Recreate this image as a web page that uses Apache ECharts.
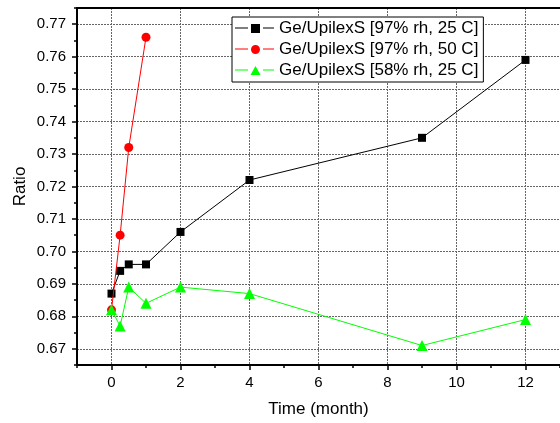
<!DOCTYPE html>
<html><head><meta charset="utf-8">
<script src="https://cdn.jsdelivr.net/npm/echarts@6/dist/echarts.min.js"></script>
<style>html,body{margin:0;padding:0;background:#fff}#c{width:560px;height:423px}</style>
</head><body><div id="c"></div>
<script>
const seriesNames = ['Ge/UpilexS [97% rh, 25 C]', 'Ge/UpilexS [97% rh, 50 C]', 'Ge/UpilexS [58% rh, 25 C]'];
const timeBlack = [0, 0.25, 0.5, 1, 2, 4, 9, 12];
const ratioBlack = [0.687, 0.694, 0.696, 0.696, 0.706, 0.722, 0.735, 0.759];
const timeRed = [0, 0.25, 0.5, 1];
const ratioRed = [0.682, 0.705, 0.732, 0.766];
const timeGreen = [0, 0.25, 0.5, 1, 2, 4, 9, 12];
const ratioGreen = [0.682, 0.677, 0.689, 0.684, 0.689, 0.687, 0.671, 0.679];
const xTicks = [0, 2, 4, 6, 8, 10, 12];
const xMinorTicks = [-1, 1, 3, 5, 7, 9, 11, 13];
const yTicks = [0.67, 0.68, 0.69, 0.70, 0.71, 0.72, 0.73, 0.74, 0.75, 0.76, 0.77];
const yMinorTicks = [0.665, 0.675, 0.685, 0.695, 0.705, 0.715, 0.725, 0.735, 0.745, 0.755, 0.765, 0.775];

const zip = (xs, ys) => xs.map((x, i) => [x, ys[i]]);
const font = 'Liberation Sans, Arial, sans-serif';
const grid = {left: 77, top: 8, right: 0, bottom: 56};
const split = {show: true, lineStyle: {color: '#666', type: [2, 1], width: 1}};

const lines = 'M0,4.5 H13 V5.5 H0 Z M28,4.5 H39 V5.5 H28 Z ';
const icons = [
  'path://' + lines + 'M16,1 H25 V10 H16 Z',
  'path://' + lines + 'M25,5.5 A4.5,4.5 0 1,1 16,5.5 A4.5,4.5 0 1,1 25,5.5 Z',
  'path://' + lines + 'M20.5,1 L25.5,10 L15.5,10 Z'
];

const chart = echarts.init(document.getElementById('c'), null, {renderer: 'canvas'});
chart.setOption({
  animation: false,
  backgroundColor: '#fff',
  grid: grid,
  legend: {
    left: 232, top: 17,
    orient: 'vertical',
    data: seriesNames.map((n, i) => ({name: n, icon: icons[i]})),
    borderColor: '#000', borderWidth: 1, borderRadius: 0,
    padding: [3, 5, 3, 3],
    itemGap: 4,
    itemWidth: 39, itemHeight: 11,
    textStyle: {fontFamily: font, fontSize: 17, color: '#000'},
    backgroundColor: '#fff'
  },
  xAxis: [{
    type: 'value', min: -1, max: 13,
    name: 'Time (month)', nameLocation: 'middle', nameGap: 36, nameMoveOverlap: false,
    nameTextStyle: {fontFamily: font, fontSize: 17, color: '#000'},
    axisLine: {show: true, onZero: false, lineStyle: {color: '#000', width: 2}},
    axisTick: {show: true, inside: false, length: 5, customValues: xTicks, lineStyle: {color: '#000', width: 1.5}},
    axisLabel: {customValues: xTicks, margin: 10, fontFamily: font, fontSize: 15, color: '#000'},
    splitLine: split
  }, {
    type: 'value', min: -1, max: 13, position: 'bottom',
    axisLine: {show: false, onZero: false},
    axisTick: {show: true, length: 3, customValues: xMinorTicks, lineStyle: {color: '#000', width: 1.5}},
    axisLabel: {show: false},
    splitLine: {show: false}
  }, {
    type: 'value', min: -1, max: 13, position: 'top',
    axisLine: {show: true, onZero: false, lineStyle: {color: '#000', width: 2}},
    axisTick: {show: false}, axisLabel: {show: false}, splitLine: {show: false}
  }],
  yAxis: [{
    type: 'value', min: 0.665, max: 0.775,
    name: 'Ratio', nameLocation: 'middle', nameGap: 48, nameMoveOverlap: false,
    nameTextStyle: {fontFamily: font, fontSize: 17, color: '#000'},
    axisLine: {show: true, onZero: false, lineStyle: {color: '#000', width: 2}},
    axisTick: {show: true, length: 5, customValues: yTicks, lineStyle: {color: '#000', width: 1.5}},
    axisLabel: {customValues: yTicks, margin: 11, fontFamily: font, fontSize: 15, color: '#000',
      formatter: v => v.toFixed(2)},
    splitLine: split
  }, {
    type: 'value', min: 0.665, max: 0.775, position: 'left',
    axisLine: {show: false, onZero: false},
    axisTick: {show: true, length: 3, customValues: yMinorTicks, lineStyle: {color: '#000', width: 1.5}},
    axisLabel: {show: false}, splitLine: {show: false}
  }],
  series: [{
    name: seriesNames[0], type: 'line', data: zip(timeBlack, ratioBlack),
    symbol: 'rect', symbolSize: 8, itemStyle: {color: '#000'},
    lineStyle: {color: '#000', width: 1}, z: 3
  }, {
    name: seriesNames[1], type: 'line', data: zip(timeRed, ratioRed),
    symbol: 'circle', symbolSize: 9, itemStyle: {color: '#ff0000'},
    lineStyle: {color: '#ff0000', width: 1}, z: 4
  }, {
    name: seriesNames[2], type: 'line', data: zip(timeGreen, ratioGreen),
    symbol: 'triangle', symbolSize: 11, itemStyle: {color: '#00ff00'},
    lineStyle: {color: '#00ff00', width: 1}, z: 5
  }]
});
</script></body></html>
